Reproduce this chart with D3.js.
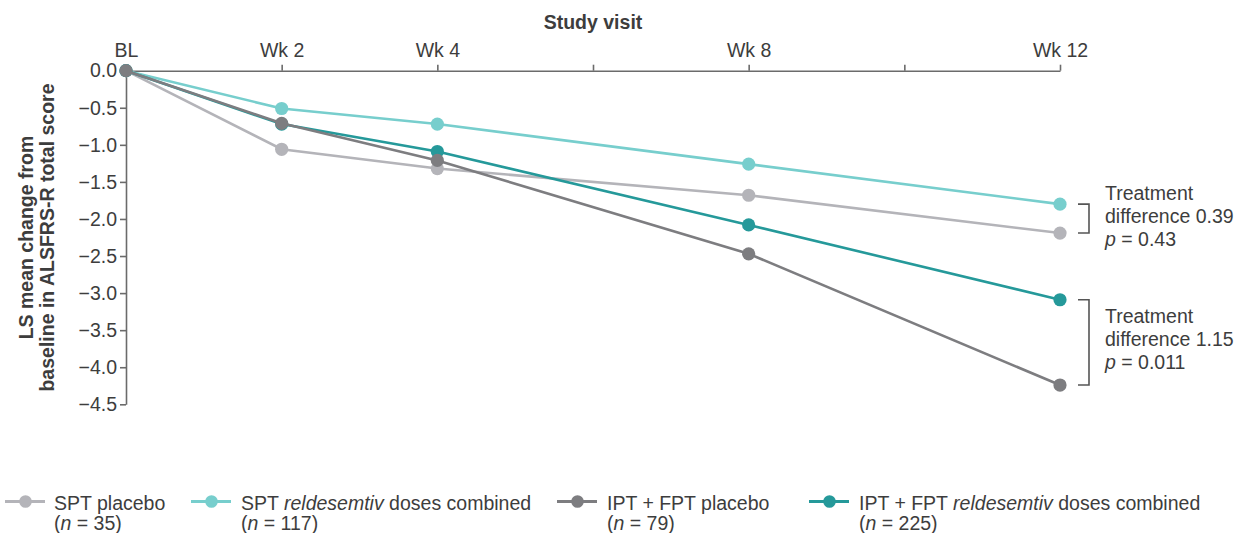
<!DOCTYPE html>
<html>
<head>
<meta charset="utf-8">
<script src="https://cdn.jsdelivr.net/npm/d3@7"></script>
<style>
  html, body { margin: 0; padding: 0; background: #fff; }
  svg { display: block; font-family: "Liberation Sans", Arial, Helvetica, sans-serif; }
  text { fill: #3d3d3d; }
</style>
</head>
<body>
<svg id="chart" width="1242" height="533"></svg>
<script>
// ---- Data ----
const weeks = [0, 2, 4, 8, 12];
const sptPlacebo = [0, -1.06, -1.32, -1.68, -2.19];
const sptReldesemtiv = [0, -0.51, -0.72, -1.26, -1.80];
const ipfPlacebo = [0, -0.71, -1.21, -2.47, -4.24];
const ipfReldesemtiv = [0, -0.72, -1.09, -2.08, -3.09];

const xTickValues = [0, 2, 4, 6, 8, 10, 12];
const xTickLabels = { 0: "BL", 2: "Wk 2", 4: "Wk 4", 8: "Wk 8", 12: "Wk 12" };
const yTickValues = [0, -0.5, -1, -1.5, -2, -2.5, -3, -3.5, -4, -4.5];

const seriesNames = ["SPT placebo", "SPT reldesemtiv doses combined", "IPT + FPT placebo", "IPT + FPT reldesemtiv doses combined"];
const seriesN = [35, 117, 79, 225];
const seriesColors = ["#b4b4b9", "#77cecd", "#7d7d80", "#25999a"];

const annotations = [
  { top: sptReldesemtiv, bottom: sptPlacebo, lines: ["Treatment", "difference 0.39", "p = 0.43"] },
  { top: ipfReldesemtiv, bottom: ipfPlacebo, lines: ["Treatment", "difference 1.15", "p = 0.011"] }
];

// ---- Setup ----
const svg = d3.select("#chart");
const x = d3.scaleLinear().domain([0, 12]).range([126, 1060]);
const y = d3.scaleLinear().domain([0, -4.5]).range([70.7, 404.3]);
const axisColor = "#6b6b6b";
const fontSize = "19.5px";

// x axis (top)
const xAxis = svg.append("g")
  .attr("transform", `translate(0,${y(0)})`)
  .call(d3.axisTop(x).tickValues(xTickValues).tickSize(6).tickSizeOuter(0).tickPadding(8)
    .tickFormat(d => xTickLabels[d] || ""));
xAxis.selectAll("path, line").attr("stroke", axisColor).attr("stroke-width", 1.6);
xAxis.selectAll("text").attr("fill", "#3d3d3d").style("font-size", fontSize).style("font-family", null);

// y axis
const yAxis = svg.append("g")
  .attr("transform", `translate(${x(0)},0)`)
  .call(d3.axisLeft(y).tickValues(yTickValues).tickSize(6).tickSizeOuter(0).tickPadding(3)
    .tickFormat(d3.format(".1f")));
yAxis.selectAll("path, line").attr("stroke", axisColor).attr("stroke-width", 1.6);
yAxis.selectAll("text").attr("fill", "#3d3d3d").style("font-size", fontSize).style("font-family", null);

// Axis titles
svg.append("text")
  .attr("x", (x(0) + x(12)) / 2).attr("y", 29.3)
  .attr("text-anchor", "middle")
  .style("font-size", fontSize).style("font-weight", "bold")
  .text("Study visit");

const yMid = (y(0) + y(-4.5)) / 2;
const yTitle = svg.append("text")
  .attr("transform", `translate(33,${yMid}) rotate(-90)`)
  .attr("text-anchor", "middle")
  .style("font-size", fontSize).style("font-weight", "bold");
yTitle.append("tspan").attr("x", 0).attr("y", 0).text("LS mean change from");
yTitle.append("tspan").attr("x", 0).attr("y", 20.5).text("baseline in ALSFRS-R total score");

// ---- Series ----
const allSeries = [sptPlacebo, sptReldesemtiv, ipfPlacebo, ipfReldesemtiv];
const drawOrder = [0, 1, 3, 2];
const line = d3.line().x((d, i) => x(weeks[i])).y(d => y(d));

drawOrder.forEach(si => {
  const vals = allSeries[si];
  const g = svg.append("g");
  g.append("path").datum(vals)
    .attr("d", line).attr("fill", "none")
    .attr("stroke", seriesColors[si]).attr("stroke-width", 2.6);
  g.selectAll("circle").data(vals).join("circle")
    .attr("cx", (d, i) => x(weeks[i])).attr("cy", d => y(d))
    .attr("r", 6.6).attr("fill", seriesColors[si]);
});

// ---- Annotations ----
annotations.forEach(a => {
  const yt = y(a.top[4]), yb = y(a.bottom[4]);
  svg.append("path")
    .attr("d", `M1078,${yt}H1089V${yb}H1078`)
    .attr("fill", "none").attr("stroke", "#555").attr("stroke-width", 1.6);
  const yc = (yt + yb) / 2;
  const t = svg.append("text").style("font-size", fontSize);
  a.lines.forEach((ln, k) => {
    const ts = t.append("tspan").attr("x", 1105).attr("y", yc - 19 + k * 23);
    if (ln.startsWith("p = ")) {
      ts.append("tspan").style("font-style", "italic").text("p");
      ts.append("tspan").text(ln.slice(1));
    } else {
      ts.text(ln);
    }
  });
});

// ---- Legend ----
const legendLineX = [5, 191, 557, 809];
const legendTextX = [54, 241, 607, 859];
seriesNames.forEach((name, i) => {
  const g = svg.append("g");
  const ly = 501.5;
  g.append("line").attr("x1", legendLineX[i]).attr("x2", legendLineX[i] + 40)
    .attr("y1", ly).attr("y2", ly)
    .attr("stroke", seriesColors[i]).attr("stroke-width", 3);
  g.append("circle").attr("cx", legendLineX[i] + 20.5).attr("cy", ly).attr("r", 6.3)
    .attr("fill", seriesColors[i]);
  const t = g.append("text").style("font-size", fontSize);
  const l1 = t.append("tspan").attr("x", legendTextX[i]).attr("y", 509.7);
  const m = name.match(/^(.*)(reldesemtiv)(.*)$/);
  if (m) {
    l1.append("tspan").text(m[1]);
    l1.append("tspan").style("font-style", "italic").text(m[2]);
    l1.append("tspan").text(m[3]);
  } else {
    l1.text(name);
  }
  const l2 = t.append("tspan").attr("x", legendTextX[i]).attr("y", 529.7);
  l2.append("tspan").text("(");
  l2.append("tspan").style("font-style", "italic").text("n");
  l2.append("tspan").text(` = ${seriesN[i]})`);
});
</script>
</body>
</html>
